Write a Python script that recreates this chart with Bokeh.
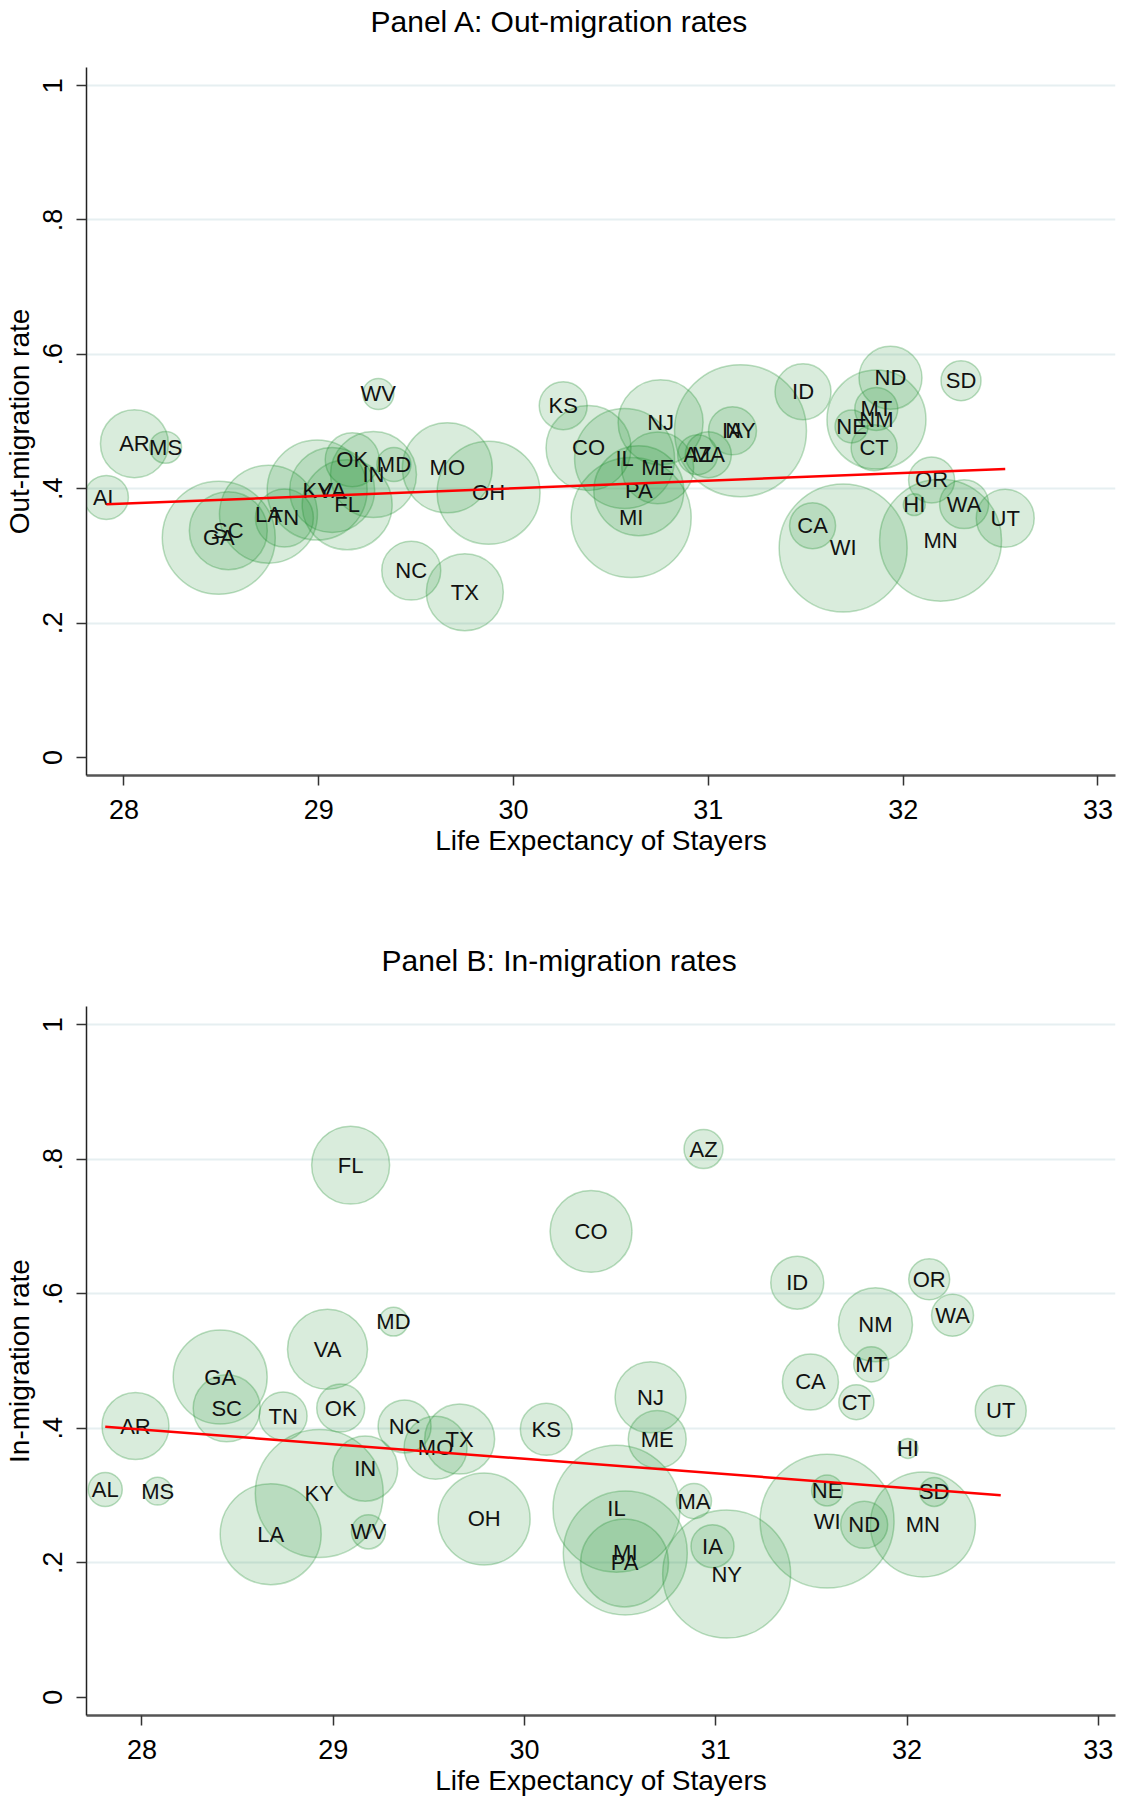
import math
from bokeh.plotting import figure
from bokeh.layouts import column
from bokeh.models import FixedTicker, Range1d, ColumnDataSource, Title
from bokeh.core.properties import value
from bokeh.embed import file_html
from bokeh.resources import INLINE

FONT = "Liberation Sans"

# ---------------- Panel A: out-migration ----------------
states_a = ["AL", "AR", "MS", "WV", "GA", "SC", "LA", "TN", "KY", "VA", "FL", "OK", "IN", "MD",
            "MO", "OH", "NC", "TX", "KS", "CO", "NJ", "IL", "ME", "PA", "MI", "AZ", "MA", "IA",
            "NY", "ID", "ND", "MT", "NM", "NE", "CT", "SD", "OR", "HI", "WA", "UT", "CA", "WI", "MN"]
life_a = [27.91, 28.054, 28.214, 29.306, 28.487, 28.536, 28.742, 28.824, 28.992, 29.069, 29.146,
          29.172, 29.281, 29.386, 29.66, 29.872, 29.475, 29.75, 30.255, 30.385, 30.755, 30.57,
          30.74, 30.643, 30.604, 30.945, 31.0, 31.124, 31.165, 31.486, 31.935, 31.862, 31.863,
          31.735, 31.851, 32.297, 32.146, 32.057, 32.313, 32.524, 31.535, 31.692, 32.192]
outmig_a = [0.387, 0.467, 0.4615, 0.541, 0.327, 0.3375, 0.362, 0.3564, 0.398, 0.398, 0.376,
            0.443, 0.421, 0.436, 0.431, 0.394, 0.278, 0.2457, 0.5236, 0.4606, 0.4988, 0.445,
            0.431, 0.397, 0.357, 0.4506, 0.4506, 0.4863, 0.4863, 0.5443, 0.565, 0.5187, 0.5028,
            0.4927, 0.461, 0.5608, 0.413, 0.3762, 0.377, 0.356, 0.3448, 0.3117, 0.3233]
weight_a = [19.4, 46.2, 10.2, 9.6, 127.7, 60.8, 96.0, 33.6, 100.0, 72.3, 81.0, 29.2, 74.0, 11.6,
            81.0, 106.1, 34.8, 59.3, 23.0, 72.3, 72.3, 100.0, 51.8, 81.0, 144.0, 16.0, 21.2, 23.0,
            174.2, 31.4, 39.7, 18.5, 98.0, 10.9, 21.2, 16.0, 21.2, 4.8, 24.0, 33.6, 21.2, 163.8, 148.8]
fit_a = [0.3767, 0.4293]   # fitted values at min / max life expectancy

# ---------------- Panel B: in-migration ----------------
states_b = ["FL", "MD", "VA", "GA", "SC", "AR", "AL", "MS", "TN", "OK", "KY", "LA", "WV", "IN",
            "NC", "MO", "TX", "OH", "KS", "AZ", "CO", "ID", "OR", "WA", "NM", "MT", "CA", "CT",
            "UT", "HI", "NE", "SD", "WI", "ND", "MN", "IL", "MI", "PA", "MA", "IA", "NY", "NJ", "ME"]
life_b = [29.091, 29.315, 28.97, 28.409, 28.443, 27.966, 27.808, 28.082, 28.738, 29.039, 28.927,
          28.673, 29.184, 29.167, 29.373, 29.535, 29.661, 29.789, 30.114, 30.936, 30.348, 31.426,
          32.116, 32.238, 31.835, 31.813, 31.495, 31.735, 32.49, 32.005, 31.582, 32.142, 31.582,
          31.776, 32.083, 30.481, 30.527, 30.523, 30.886, 30.983, 31.057, 30.659, 30.694]
inmig_b = [0.7912, 0.5585, 0.5174, 0.4762, 0.4296, 0.4033, 0.309, 0.3065, 0.4182, 0.43, 0.3031,
           0.2426, 0.246, 0.34, 0.4028, 0.371, 0.3839, 0.2652, 0.3984, 0.815, 0.6927, 0.6165,
           0.6216, 0.568, 0.554, 0.495, 0.4688, 0.4388, 0.426, 0.37, 0.3076, 0.3054, 0.2619,
           0.2564, 0.257, 0.2805, 0.2147, 0.1998, 0.2917, 0.2247, 0.1833, 0.446, 0.3835]
weight_b = [60.8, 8.4, 64.0, 88.4, 44.9, 44.9, 11.6, 7.8, 23.0, 23.0, 163.8, 102.0, 11.6, 42.3,
            28.1, 39.7, 49.0, 84.6, 27.0, 15.2, 67.2, 28.1, 16.8, 17.6, 54.8, 12.3, 31.4, 12.3,
            26.0, 4.0, 9.6, 8.4, 179.6, 22.1, 110.3, 161.3, 153.8, 77.4, 12.3, 18.5, 163.8, 50.4, 33.6]
fit_b = [0.4022, 0.3006]

x_ticks = [28, 29, 30, 31, 32, 33]
y_ticks = [0, 0.2, 0.4, 0.6, 0.8, 1.0]
y_tick_labels = {0: "0", 0.2: ".2", 0.4: ".4", 0.6: ".6", 0.8: ".8", 1.0: "1"}


def make_panel(title, ylabel, states, xs, ys, wts, fit, xlo, height, top, bottom, title_off):
    p = figure(width=1120, height=height, output_backend="svg", toolbar_location=None,
               x_range=Range1d(xlo, 33.09), y_range=Range1d(-0.027, 1.027),
               min_border_left=86, min_border_right=5, min_border_top=top,
               min_border_bottom=bottom)
    # spacer between plot region and title (nearest the frame)
    p.add_layout(Title(text=" ", text_font_size="1px", standoff=29), "above")
    p.add_layout(Title(text=title, text_font=FONT, text_font_size="30px",
                       text_font_style="normal", text_color="black", align="left",
                       offset=title_off, standoff=-4), "above")
    p.outline_line_color = None
    p.background_fill_color = "white"
    p.border_fill_color = "white"

    p.xgrid.visible = False
    p.ygrid.ticker = FixedTicker(ticks=[0.2, 0.4, 0.6, 0.8, 1.0])
    p.ygrid.grid_line_color = "#e6eff1"
    p.ygrid.grid_line_width = 2

    p.xaxis.ticker = FixedTicker(ticks=x_ticks)
    p.yaxis.ticker = FixedTicker(ticks=y_ticks)
    p.yaxis.major_label_overrides = y_tick_labels
    p.yaxis.major_label_orientation = "vertical"
    p.xaxis.axis_label = "Life Expectancy of Stayers"
    p.yaxis.axis_label = ylabel
    for ax in (p.xaxis, p.yaxis):
        ax.axis_label_text_font = FONT
        ax.axis_label_text_font_size = "28px"
        ax.axis_label_text_font_style = "normal"
        ax.axis_label_text_color = "black"
        ax.major_label_text_font = FONT
        ax.major_label_text_font_size = "27px"
        ax.major_label_text_color = "black"
        ax.minor_tick_line_color = None
        ax.major_tick_in = 0
        ax.major_tick_out = 10
        ax.major_tick_line_width = 1.5
        ax.major_tick_line_color = "#333333"
    p.xaxis.axis_line_color = "#555555"
    p.xaxis.axis_line_width = 2.5
    p.yaxis.axis_line_color = "#222222"
    p.yaxis.axis_line_width = 1.5
    p.xaxis.major_label_standoff = 14
    p.xaxis.axis_label_standoff = 3
    p.yaxis.major_label_standoff = 14
    p.yaxis.axis_label_standoff = 6

    src = ColumnDataSource(dict(x=xs, y=ys, st=states,
                                sz=[10 * math.sqrt(w) for w in wts]))
    p.scatter("x", "y", size="sz", marker="circle", source=src,
              fill_color="#1f8f2f", fill_alpha=0.17,
              line_color="#1f8f2f", line_alpha=0.3, line_width=1.5)
    p.text("x", "y", text="st", source=src, text_align="center", text_baseline="middle",
           text_font=value(FONT), text_font_size="22px", text_color="#111111")
    p.line([min(xs), max(xs)], fit, line_color="red", line_width=2.5)
    return p


pa = make_panel("Panel A: Out-migration rates", "Out-migration rate", states_a, life_a,
                outmig_a, weight_a, fit_a, 27.808, 870, 67, 95, 284)
pb = make_panel("Panel B: In-migration rates", "In-migration rate", states_b, life_b,
                inmig_b, weight_b, fit_b, 27.71, 935, 136, 90, 295)

layout = column(pa, pb, spacing=0)
open("out.html", "w").write(file_html(layout, INLINE))
